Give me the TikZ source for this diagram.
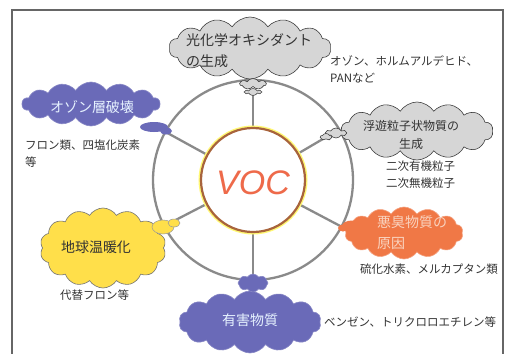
\documentclass[tikz,border=0pt]{standalone}
\usepackage{fontspec}
\newfontfamily\jp{Noto Sans CJK JP}
\newfontfamily\vocfont{Liberation Sans}
\usetikzlibrary{shapes.symbols,shapes.geometric}
\definecolor{cloudgray}{HTML}{D6D6D6}
\definecolor{cloudpurple}{HTML}{6A6AB8}
\definecolor{cloudyellow}{HTML}{FFDF4A}
\definecolor{cloudorange}{HTML}{F07846}
\definecolor{ringgray}{HTML}{8A8A8A}
\definecolor{vocbrown}{HTML}{A8643C}
\definecolor{vocred}{HTML}{EE6A4A}
\definecolor{textdark}{HTML}{333333}
\definecolor{palepink}{HTML}{F9D2BE}
\definecolor{paleblue}{HTML}{E6F2FF}
\tikzset{
  cloudbase/.style={cloud, cloud puffs=14, cloud puff arc=115, cloud ignores aspect, inner sep=0pt, line width=0.6pt},
  graycloud/.style={cloudbase, fill=cloudgray, draw=black!75},
  purplecloud/.style={cloudbase, fill=cloudpurple, draw=cloudpurple!80!white},
  yellowcloud/.style={cloudbase, fill=cloudyellow, draw=black!55},
  orangecloud/.style={cloudbase, fill=cloudorange, draw=cloudorange!70!white},
  bubble/.style={ellipse, inner sep=0pt, line width=0.5pt},
  spoke/.style={draw=ringgray, line width=2.3pt},
  title/.style={font=\jp\fontsize{14}{21}\selectfont, inner sep=0pt, align=left},
  lbl/.style={font=\jp\fontsize{11.5}{17}\selectfont, text=textdark, inner sep=0pt, align=left, anchor=north west},
}
\begin{document}
\begin{tikzpicture}[x=1pt,y=-1pt]
\useasboundingbox (0,0) rectangle (507,354);
\fill[white] (0,0) rectangle (507,354);
% frame
\draw[black!60, line width=1.2pt] (12,360) -- (12,10) -- (503,10) -- (503,360);

% tail coordinates
\coordinate (tTop) at (253,90);
\coordinate (tUR) at (328,136);
\coordinate (tLR) at (344,228);
\coordinate (tBot) at (253,280);
\coordinate (tLL) at (166,225);
\coordinate (tUL) at (162,130);

% central circle
\node[circle, minimum size=104pt, inner sep=0pt] (voc) at (253,180) {};
% spokes
\foreach \t in {tTop,tUR,tLR,tBot,tLL,tUL} \draw[spoke] (voc) -- (\t);
% ring
\node[circle, minimum size=200pt, inner sep=0pt, draw=ringgray, line width=2.3pt] (ring) at (253,180) {};
% VOC circle
\node[circle, minimum size=104pt, inner sep=0pt, fill=white, draw=vocbrown, line width=2.2pt,
  preaction={draw=yellow!55, line width=5pt}] (vocc) at (253,180) {};
\node[font=\vocfont\itshape\fontsize{34}{34}\selectfont, text=vocred, inner sep=0pt] (voctext) at (253,183) {VOC};

% top cloud
\node[graycloud, minimum width=162pt, minimum height=62pt] (c1) at (250,48) {};
\node[title, text=textdark, anchor=west] (c1t) at (186,51) {光化学オキシダント\\の生成};
\node[graycloud, cloud puffs=7, minimum width=26pt, minimum height=11pt] (b1a) at (253,84) {};
\node[graycloud, cloud puffs=6, minimum width=16pt, minimum height=7pt] (b1b) at (253,92) {};
\node[lbl] (l1) at (330,55) {オゾン、ホルムアルデヒド、\\PANなど};

% ozone cloud
\node[purplecloud, minimum width=138pt, minimum height=44pt] (c2) at (91,104) {};
\node[title, text=paleblue] (c2t) at (92,107) {オゾン層破壊};
\node[bubble, fill=cloudpurple, minimum width=28pt, minimum height=10pt] (b2a) at (154,127) {};
\node[bubble, fill=cloudpurple, minimum width=12pt, minimum height=7pt] (b2b) at (166,131) {};
\node[lbl] (l2) at (25,140) {フロン類、四塩化炭素\\等};

% particle cloud
\node[graycloud, minimum width=152pt, minimum height=58pt] (c3) at (417,131) {};
\node[title, font=\jp\fontsize{12}{18}\selectfont, text=textdark, align=center] (c3t) at (411,135) {浮遊粒子状物質の\\生成};
\node[graycloud, cloud puffs=6, minimum width=20pt, minimum height=10pt] (b3a) at (336,133) {};
\node[graycloud, cloud puffs=5, minimum width=11pt, minimum height=7pt] (b3b) at (326,137) {};
\node[lbl] (l3) at (386,161) {二次有機粒子\\二次無機粒子};

% odor cloud
\node[orangecloud, minimum width=118pt, minimum height=52pt] (c4) at (404,233) {};
\node[title, text=palepink] (c4t) at (377,233) [anchor=west] {悪臭物質の\\原因};
\node[bubble, fill=cloudorange, minimum width=20pt, minimum height=11pt] (b4a) at (352,226) {};
\node[bubble, fill=cloudorange, minimum width=10pt, minimum height=7pt] (b4b) at (343,228) {};
\node[lbl] (l4) at (360,264) {硫化水素、メルカプタン類};

% yellow cloud
\node[yellowcloud, minimum width=126pt, minimum height=80pt] (c5) at (103,248) {};
\node[title, text=textdark] (c5t) at (96,247) {地球温暖化};
\node[bubble, fill=cloudyellow, draw=black!40, minimum width=22pt, minimum height=14pt] (b5a) at (163,227) {};
\node[bubble, fill=cloudyellow, draw=black!40, minimum width=12pt, minimum height=8pt] (b5b) at (174,223) {};
\node[lbl] (l5) at (60,290) {代替フロン等};

% harmful cloud
\node[purplecloud, minimum width=142pt, minimum height=62pt] (c6) at (250,322) {};
\node[purplecloud, cloud puffs=8, minimum width=30pt, minimum height=18pt] (b6) at (253,283) {};
\node[title, text=paleblue] (c6t) at (250,320) {有害物質};
\node[lbl] (l6) at (324,317) {ベンゼン、トリクロロエチレン等};
\end{tikzpicture}
\end{document}
